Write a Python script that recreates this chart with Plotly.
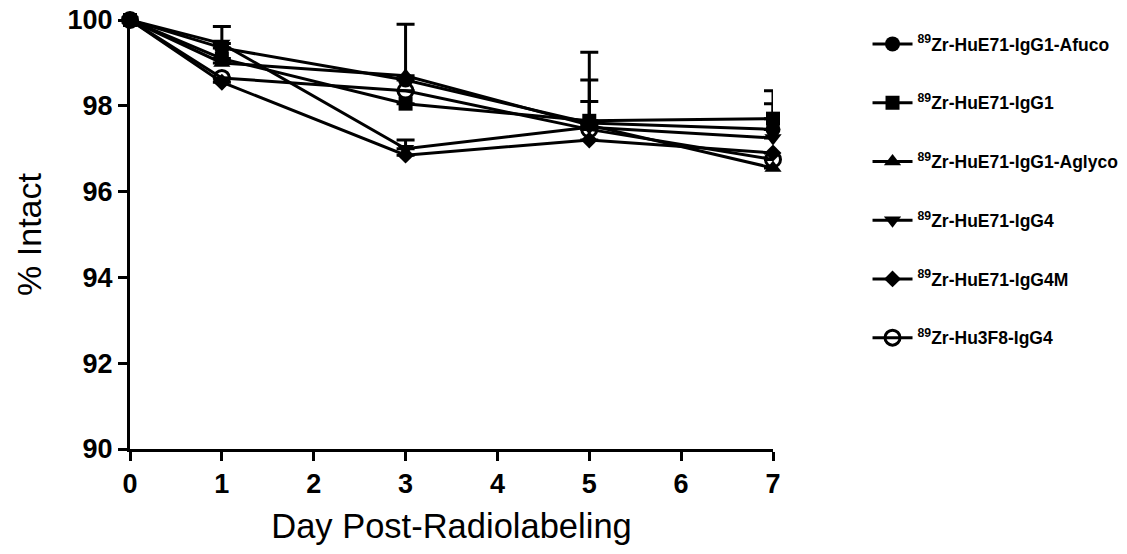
import plotly.graph_objects as go

days = [0, 1, 3, 5, 7]
names = [
    "<sup>89</sup>Zr-HuE71-IgG1-Afuco",
    "<sup>89</sup>Zr-HuE71-IgG1",
    "<sup>89</sup>Zr-HuE71-IgG1-Aglyco",
    "<sup>89</sup>Zr-HuE71-IgG4",
    "<sup>89</sup>Zr-HuE71-IgG4M",
    "<sup>89</sup>Zr-Hu3F8-IgG4",
]
afuco = [100, 99.35, 98.6, 97.6, 97.45]
igg1 = [100, 99.1, 98.05, 97.65, 97.7]
aglyco = [100, 99.0, 98.7, 97.55, 96.55]
igg4 = [100, 99.45, 97.0, 97.5, 97.25]
igg4m = [100, 98.55, 96.85, 97.2, 96.9]
hu3f8 = [100, 98.65, 98.35, 97.45, 96.75]

# upper error bars (SD)
afuco_sd = [0, 0, 1.3, 0.5, 0.6]
igg1_sd = [0, 0, 0, 0, 0.65]
aglyco_sd = [0, 0, 0, 1.7, 0]
igg4_sd = [0, 0.4, 0.2, 1.1, 0]
igg4m_sd = [0, 0, 0, 0, 0]
hu3f8_sd = [0, 0, 0, 0, 0]
zeros = [0, 0, 0, 0, 0]

series = [afuco, igg1, aglyco, igg4, igg4m, hu3f8]
sds = [afuco_sd, igg1_sd, aglyco_sd, igg4_sd, igg4m_sd, hu3f8_sd]
symbols = ["circle", "square", "triangle-up", "triangle-down", "diamond", "circle-open"]
sizes = [15, 14, 15, 15, 13, 15]

fig = go.Figure()
for i, (nm, ys, sd, sym, sz) in enumerate(zip(names, series, sds, symbols, sizes)):
    fig.add_trace(go.Scatter(
        x=days, y=ys, name=nm, mode="lines+markers",
        legendgroup=f"g{i}",
        line=dict(color="black", width=3),
        marker=dict(symbol=sym, size=sz, color="black",
                    line=dict(color="black", width=3 if sym == "circle-open" else 0)),
        error_y=dict(type="data", array=sd, arrayminus=zeros, visible=True,
                     color="black", thickness=3, width=9),
        cliponaxis=False,
    ))

fig.add_annotation(text="% Intact", xref="paper", yref="paper",
                   x=-0.158, y=0.5, textangle=-90, showarrow=False,
                   xanchor="center", yanchor="middle",
                   font=dict(size=34, color="black", family="Liberation Sans, Arial, sans-serif"))

fig.update_layout(
    width=1127, height=554,
    margin=dict(l=122, r=358, t=12, b=113),
    paper_bgcolor="white", plot_bgcolor="white",
    font=dict(family="Liberation Sans, Arial, sans-serif", color="black"),
    showlegend=True,
    legend=dict(x=1.147, y=0.986, xanchor="left", yanchor="top",
                font=dict(size=17.5, color="black", family="Liberation Sans, Arial, sans-serif", weight="bold"),
                tracegroupgap=33, itemwidth=40, bgcolor="rgba(0,0,0,0)",
                maxheight=1),
    xaxis=dict(range=[0, 7], tickvals=[0, 1, 2, 3, 4, 5, 6, 7],
               showline=True, linecolor="black", linewidth=3,
               ticks="outside", ticklen=9, tickwidth=3, tickcolor="black",
               tickfont=dict(size=27, weight="bold"), ticklabeloverflow="allow",
               showgrid=False, zeroline=False, automargin=False,
               title=dict(text="Day Post-Radiolabeling", font=dict(size=34.5), standoff=16)),
    yaxis=dict(range=[90, 100], tickvals=[90, 92, 94, 96, 98, 100],
               showline=True, linecolor="black", linewidth=3,
               ticks="outside", ticklen=9, tickwidth=3, tickcolor="black",
               tickfont=dict(size=27, weight="bold"), ticklabeloverflow="allow",
               showgrid=False, zeroline=False, automargin=False),
)

fig.write_html("out.html")
